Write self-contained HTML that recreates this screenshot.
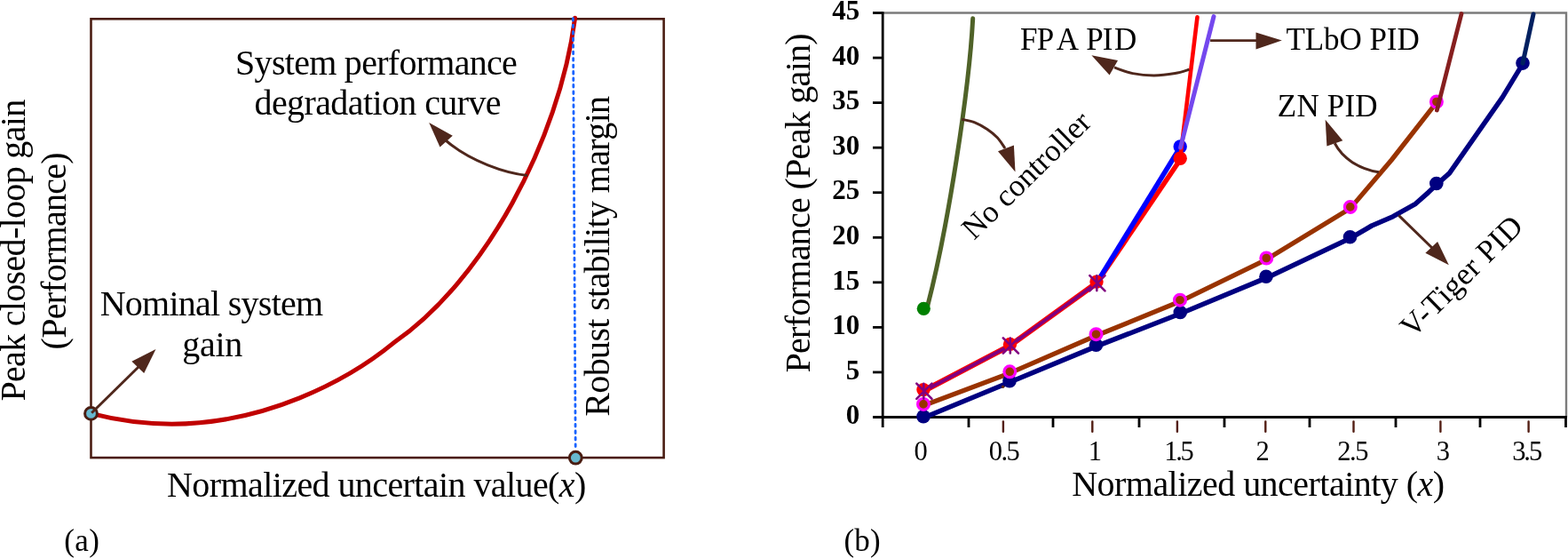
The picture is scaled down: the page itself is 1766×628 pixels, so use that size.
<!DOCTYPE html>
<html><head><meta charset="utf-8"><style>
html,body{margin:0;padding:0;background:#fff;}
body{width:1766px;height:628px;overflow:hidden;}
svg{display:block;}
text{font-family:"Liberation Serif","Times New Roman",serif;}
</style></head><body>
<svg width="1766" height="628" viewBox="0 0 1766 628" font-family="'Liberation Serif', 'Times New Roman', serif">
<rect width="1766" height="628" fill="#fff"/>
<rect x="102.5" y="21.3" width="645.1" height="493.8" fill="none" stroke="#4a1d12" stroke-width="2.6"/>
<path d="M102.5,465.4 C296.52,515.46 441.75,386.84 444.76,384.76 C544.25,315.96 629.58,159.54 647.6,20.3" fill="none" stroke="#c00000" stroke-width="5" stroke-linecap="round"/>
<line x1="645.4" y1="20.6" x2="648.2" y2="506" stroke="#1763ff" stroke-width="2.8" stroke-dasharray="2.6 4.89" stroke-linecap="round"/>
<path d="M594,197.4 C570,195 530,182 502,158" fill="none" stroke="#4f271c" stroke-width="3"/>
<polygon points="483.2,137.9 509.8,152.7 495.5,165.6" fill="#4f271c"/>
<circle cx="102.5" cy="465.4" r="6.9" fill="#67b8cf" stroke="#4a1d12" stroke-width="3"/>
<circle cx="648.3" cy="515.2" r="6.9" fill="#67b8cf" stroke="#4a1d12" stroke-width="3"/>
<line x1="103.2" y1="464.7" x2="157" y2="412" stroke="#4f271c" stroke-width="3"/>
<polygon points="175.5,393 148.4,406.8 162.2,420.1" fill="#4f271c"/>
<text x="265.10" y="84.30" font-size="40" textLength="317.68" lengthAdjust="spacing" fill="#000">System performance</text>
<text x="286.50" y="128.90" font-size="40" textLength="278.13" lengthAdjust="spacing" fill="#000">degradation curve</text>
<text x="112.70" y="355.10" font-size="40" textLength="251.49" lengthAdjust="spacing" fill="#000">Nominal system</text>
<text x="205.30" y="400.80" font-size="40" textLength="67.97" lengthAdjust="spacing" fill="#000">gain</text>
<text transform="translate(27.90 451.60) rotate(-90)" x="0" y="0" font-size="40" textLength="339.74" lengthAdjust="spacing">Peak closed-loop gain</text>
<text transform="translate(74.00 393.40) rotate(-90)" x="0" y="0" font-size="40" textLength="221.98" lengthAdjust="spacing">(Performance)</text>
<text transform="translate(685.80 468.70) rotate(-90)" x="0" y="0" font-size="40" textLength="360.82" lengthAdjust="spacing">Robust stability margin</text>
<text x="188.00" y="559.00" font-size="40" textLength="472.33" lengthAdjust="spacing" fill="#000">Normalized uncertain value(<tspan font-style="italic">x</tspan>)</text>
<text x="72.22" y="619.70" font-size="35" textLength="39.75" lengthAdjust="spacing" fill="#000">(a)</text>
<polyline points="994,14.5 1764,14.5 1764,469.5" fill="none" stroke="#7b7b7b" stroke-width="2.4"/>
<line x1="994.2" y1="13.3" x2="994.2" y2="481" stroke="#000" stroke-width="2.8"/>
<line x1="983" y1="469.50" x2="994.2" y2="469.50" stroke="#000" stroke-width="2.8"/>
<line x1="983" y1="418.94" x2="994.2" y2="418.94" stroke="#000" stroke-width="2.8"/>
<line x1="983" y1="368.39" x2="994.2" y2="368.39" stroke="#000" stroke-width="2.8"/>
<line x1="983" y1="317.83" x2="994.2" y2="317.83" stroke="#000" stroke-width="2.8"/>
<line x1="983" y1="267.28" x2="994.2" y2="267.28" stroke="#000" stroke-width="2.8"/>
<line x1="983" y1="216.72" x2="994.2" y2="216.72" stroke="#000" stroke-width="2.8"/>
<line x1="983" y1="166.17" x2="994.2" y2="166.17" stroke="#000" stroke-width="2.8"/>
<line x1="983" y1="115.61" x2="994.2" y2="115.61" stroke="#000" stroke-width="2.8"/>
<line x1="983" y1="65.06" x2="994.2" y2="65.06" stroke="#000" stroke-width="2.8"/>
<line x1="983" y1="14.50" x2="994.2" y2="14.50" stroke="#000" stroke-width="2.8"/>
<line x1="983" y1="469.5" x2="1765" y2="469.5" stroke="#000" stroke-width="2.8"/>
<line x1="1091" y1="469.5" x2="1091" y2="481" stroke="#000" stroke-width="2.8"/>
<line x1="1186" y1="469.5" x2="1186" y2="481" stroke="#000" stroke-width="2.8"/>
<line x1="1283" y1="469.5" x2="1283" y2="481" stroke="#000" stroke-width="2.8"/>
<line x1="1379" y1="469.5" x2="1379" y2="481" stroke="#000" stroke-width="2.8"/>
<line x1="1475" y1="469.5" x2="1475" y2="481" stroke="#000" stroke-width="2.8"/>
<line x1="1572" y1="469.5" x2="1572" y2="481" stroke="#000" stroke-width="2.8"/>
<line x1="1667" y1="469.5" x2="1667" y2="481" stroke="#000" stroke-width="2.8"/>
<line x1="1763.5" y1="469.5" x2="1763.5" y2="481" stroke="#000" stroke-width="2.8"/>
<line x1="1129.9" y1="474.5" x2="1129.9" y2="485.8" stroke="#531f14" stroke-width="2.4" stroke-linecap="round"/>
<line x1="1230.3" y1="474.5" x2="1230.3" y2="485.8" stroke="#531f14" stroke-width="2.4" stroke-linecap="round"/>
<line x1="1325.9" y1="474.5" x2="1325.9" y2="485.8" stroke="#531f14" stroke-width="2.4" stroke-linecap="round"/>
<line x1="1425.3" y1="474.5" x2="1425.3" y2="485.8" stroke="#531f14" stroke-width="2.4" stroke-linecap="round"/>
<line x1="1524.5" y1="474.5" x2="1524.5" y2="485.8" stroke="#531f14" stroke-width="2.4" stroke-linecap="round"/>
<line x1="1622.4" y1="474.5" x2="1622.4" y2="485.8" stroke="#531f14" stroke-width="2.4" stroke-linecap="round"/>
<line x1="1721.6" y1="474.5" x2="1721.6" y2="485.8" stroke="#531f14" stroke-width="2.4" stroke-linecap="round"/>
<text x="952.79" y="477.23" font-size="31" font-weight="bold">0</text>
<text x="952.79" y="426.68" font-size="31" font-weight="bold">5</text>
<text x="937.29" y="376.12" font-size="31" font-weight="bold">10</text>
<text x="937.29" y="325.56" font-size="31" font-weight="bold">15</text>
<text x="937.29" y="275.01" font-size="31" font-weight="bold">20</text>
<text x="937.29" y="224.45" font-size="31" font-weight="bold">25</text>
<text x="937.29" y="173.90" font-size="31" font-weight="bold">30</text>
<text x="937.29" y="123.34" font-size="31" font-weight="bold">35</text>
<text x="937.29" y="72.79" font-size="31" font-weight="bold">40</text>
<text x="937.29" y="22.23" font-size="31" font-weight="bold">45</text>
<text x="1029.62" y="517.9" font-size="30.5">0</text>
<text x="1113.73" y="517.90" font-size="30.5" textLength="34.99" lengthAdjust="spacing" fill="#000">0.5</text>
<text x="1225.79" y="517.9" font-size="30.5">1</text>
<text x="1311.31" y="517.90" font-size="30.5" textLength="33.51" lengthAdjust="spacing" fill="#000">1.5</text>
<text x="1414.38" y="517.9" font-size="30.5">2</text>
<text x="1506.23" y="517.90" font-size="30.5" textLength="35.39" lengthAdjust="spacing" fill="#000">2.5</text>
<text x="1617.75" y="517.9" font-size="30.5">3</text>
<text x="1703.13" y="517.90" font-size="30.5" textLength="34.09" lengthAdjust="spacing" fill="#000">3.5</text>
<path d="M1040.00,470.30 L1137.00,430.30 L1234.50,389.90 L1329.30,353.00 L1426.00,312.90 L1520.50,268.30 L1545.00,254.00 L1568.90,243.70 L1594.40,229.30 L1608.70,216.60 L1617.80,208.10 L1632.50,194.90 L1692.10,109.60 L1715.00,71.90" fill="none" stroke="#000080" stroke-width="5.5" stroke-linejoin="round"/>
<path d="M1040.00,456.50 L1137.30,419.90 L1234.50,377.80 L1329.00,339.30 L1426.30,292.10 L1520.80,234.50 L1567.30,180.00 L1617.90,115.30" fill="none" stroke="#993300" stroke-width="5.3" stroke-linejoin="round"/>
<path d="M1040.00,440.20 L1137.50,389.00 L1235.00,318.70" fill="none" stroke="#ff0000" stroke-width="6.4" stroke-linejoin="round"/>
<path d="M1235.00,318.70 L1329.20,179.80" fill="none" stroke="#ff0000" stroke-width="5.6"/>
<path d="M1235,318.70000000000005 L1329.2,165.8" fill="none" stroke="#0000ff" stroke-width="5.6"/>
<path d="M1040.00,440.20 L1137.50,389.00 L1235.00,318.70" fill="none" stroke="#800080" stroke-width="3.8" stroke-linejoin="round"/>
<path d="M1044.8,344 C1067.55,256.11 1091.44,102.26 1095.7,20.8" fill="none" stroke="#4f6228" stroke-width="5" stroke-linecap="round"/>
<circle cx="1040.3" cy="347.3" r="7.6" fill="#008000"/>
<circle cx="1040" cy="468.7" r="7.8" fill="#000080"/>
<circle cx="1137" cy="428.7" r="7.8" fill="#000080"/>
<circle cx="1234.5" cy="388.3" r="7.8" fill="#000080"/>
<circle cx="1329.3" cy="351.4" r="7.8" fill="#000080"/>
<circle cx="1426" cy="311.3" r="7.8" fill="#000080"/>
<circle cx="1520.5" cy="266.7" r="7.8" fill="#000080"/>
<circle cx="1617.8" cy="206.5" r="7.8" fill="#000080"/>
<circle cx="1715" cy="71.1" r="7.8" fill="#000080"/>
<circle cx="1040" cy="454.9" r="6.4" fill="#993300" stroke="#ff00ff" stroke-width="3.2"/>
<circle cx="1137.3" cy="418.3" r="6.4" fill="#993300" stroke="#ff00ff" stroke-width="3.2"/>
<circle cx="1234.5" cy="376.2" r="6.4" fill="#993300" stroke="#ff00ff" stroke-width="3.2"/>
<circle cx="1329" cy="337.7" r="6.4" fill="#993300" stroke="#ff00ff" stroke-width="3.2"/>
<circle cx="1426.3" cy="290.5" r="6.4" fill="#993300" stroke="#ff00ff" stroke-width="3.2"/>
<circle cx="1520.8" cy="232.9" r="6.4" fill="#993300" stroke="#ff00ff" stroke-width="3.2"/>
<circle cx="1617.9" cy="114.5" r="6.4" fill="#993300" stroke="#ff00ff" stroke-width="3.2"/>
<circle cx="1329.2" cy="165" r="7.7" fill="#0000ff"/>
<path d="M1715,71.1 L1727,16" fill="none" stroke="#002060" stroke-width="5" stroke-linecap="round"/>
<path d="M1618.4,124 L1646,15.5" fill="none" stroke="#861f1f" stroke-width="4.8" stroke-linecap="round"/>
<path d="M1329.2,178.2 L1348.5,19.3" fill="none" stroke="#ff0000" stroke-width="4.6" stroke-linecap="round"/>
<path d="M1329.6,166 L1367,18.6" fill="none" stroke="#7448ee" stroke-width="5" stroke-linecap="round"/>
<circle cx="1040" cy="438.6" r="7.7" fill="#ff0000"/>
<circle cx="1137.5" cy="387.4" r="7.7" fill="#ff0000"/>
<circle cx="1235" cy="317.1" r="7.7" fill="#ff0000"/>
<circle cx="1329.2" cy="178.2" r="7.7" fill="#ff0000"/>
<path d="M1032.30,431.60 L1049.50,448.80 M1032.30,448.80 L1049.50,431.60 M1040.30,431.80 L1040.30,448.60" stroke="#800080" stroke-width="2.6" stroke-linecap="round"/>
<path d="M1129.80,380.40 L1147.00,397.60 M1129.80,397.60 L1147.00,380.40 M1137.80,380.60 L1137.80,397.40" stroke="#800080" stroke-width="2.6" stroke-linecap="round"/>
<path d="M1227.30,310.10 L1244.50,327.30 M1227.30,327.30 L1244.50,310.10 M1235.30,310.30 L1235.30,327.10" stroke="#800080" stroke-width="2.6" stroke-linecap="round"/>
<circle cx="1129.6" cy="435.3" r="1.7" fill="#5a2512"/>
<path d="M1339.40,78.30 C1336.75,79.02 1330.13,81.48 1323.50,82.60 C1316.87,83.72 1307.57,85.00 1299.60,85.00 C1291.63,85.00 1283.13,84.12 1275.70,82.60 C1268.27,81.08 1258.45,77.02 1255.00,75.90" fill="none" stroke="#4f271c" stroke-width="3"/>
<polygon points="1229.4,62.3 1259,67.9 1249.6,84.6" fill="#4f271c"/>
<line x1="1363.1" y1="45.6" x2="1416" y2="45.6" stroke="#4f271c" stroke-width="2.7"/>
<polygon points="1443.8,45.6 1414.5,36.5 1414.5,55.4" fill="#4f271c"/>
<path d="M1552.9,193.8 C1530,190 1512,178 1503.3,161.3" fill="none" stroke="#4f271c" stroke-width="3"/>
<polygon points="1492.7,134.8 1494.4,164.4 1512.3,158.2" fill="#4f271c"/>
<path d="M1083.30,134.30 C1085.73,134.88 1093.13,135.93 1097.90,137.80 C1102.67,139.67 1107.65,142.63 1111.90,145.50 C1116.15,148.37 1120.05,151.42 1123.40,155.00 C1126.75,158.58 1130.57,165.00 1132.00,167.00" fill="none" stroke="#4f271c" stroke-width="3"/>
<polygon points="1143.5,193.6 1124,170.3 1141.9,163.6" fill="#4f271c"/>
<line x1="1575.3" y1="242.4" x2="1614" y2="280" stroke="#4f271c" stroke-width="3"/>
<polygon points="1631.8,298.3 1605.4,284.8 1619.1,272" fill="#4f271c"/>
<text transform="translate(912.00 419.50) rotate(-90)" x="0" y="0" font-size="40" textLength="382.20" lengthAdjust="spacing">Performance (Peak gain)</text>
<text x="1207.20" y="557.80" font-size="40" textLength="419.82" lengthAdjust="spacing" fill="#000">Normalized uncertainty (<tspan font-style="italic">x</tspan>)</text>
<text x="1149.05 1167.85 1189.75 1214.5 1223.15 1241.77 1254.95" y="55.8" font-size="35">FPA PID</text>
<text x="1448.47" y="56.00" font-size="35" textLength="150.26" lengthAdjust="spacing" fill="#000">TLbO PID</text>
<text x="1438.83" y="131.00" font-size="35" textLength="112.66" lengthAdjust="spacing" fill="#000">ZN PID</text>
<text transform="translate(1097.10 271.00) rotate(-44.5)" x="0" y="0" font-size="35">No controller</text>
<text transform="translate(1590.80 381.40) rotate(-44.6)" x="0" y="0" font-size="35" textLength="177.50" lengthAdjust="spacing">V-Tiger PID</text>
<text x="950.42" y="620.10" font-size="35" textLength="41.21" lengthAdjust="spacing" fill="#000">(b)</text>
</svg>
</body></html>
